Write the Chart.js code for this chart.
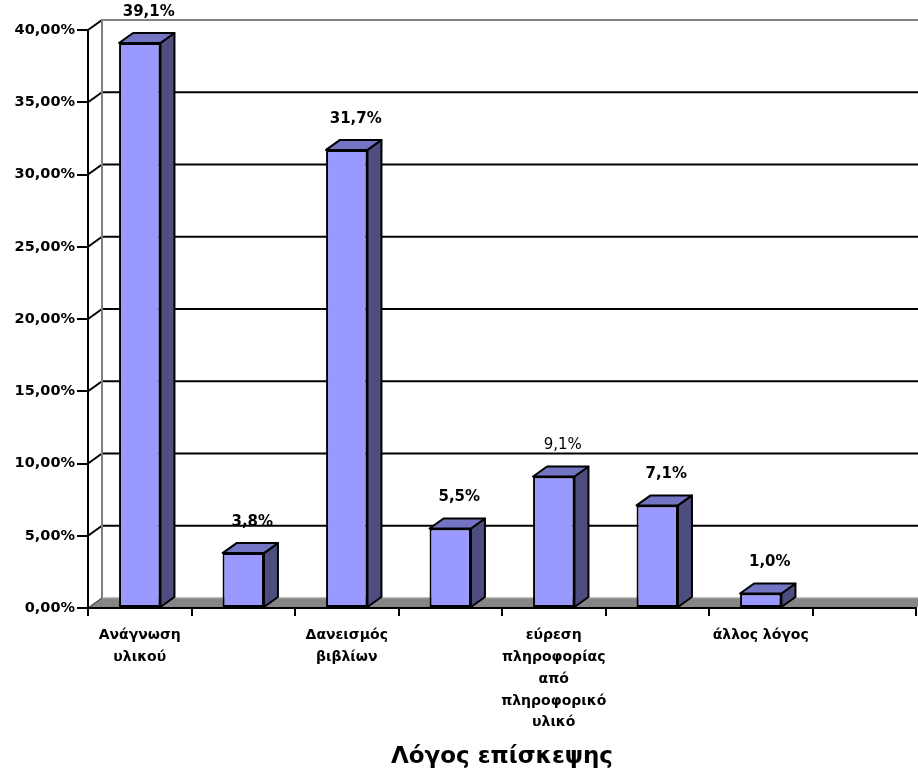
<!DOCTYPE html>
<html lang="el">
<head>
<meta charset="utf-8">
<title>Λόγος επίσκεψης</title>
<script src="https://cdn.jsdelivr.net/npm/chart.js@4.4.1/dist/chart.umd.min.js"></script>
<style>
  html, body { margin: 0; padding: 0; background: #fff; }
  #wrap { width: 918px; height: 776px; }
</style>
</head>
<body>
<div id="wrap"><canvas id="visits"></canvas></div>
<script>
// Λόγος επίσκεψης - ποσοστά (%)
const categories = [
  ['Ανάγνωση', 'υλικού'],
  '',
  ['Δανεισμός', 'βιβλίων'],
  '',
  ['εύρεση', 'πληροφορίας', 'από', 'πληροφορικό', 'υλικό'],
  '',
  'άλλος λόγος',
  ''
];
const percentages = [39.1, 3.8, 31.7, 5.5, 9.1, 7.1, 1.0, null];
const axisTitle = 'Λόγος επίσκεψης';

const FONT = 'DejaVu Sans';
const DEPTH_X = 14;
const DEPTH_Y = -10;

const fmtPct = (v, d) => v.toFixed(d).replace('.', ',') + '%';

function line(ctx, x1, y1, x2, y2, color, w) {
  ctx.beginPath();
  ctx.moveTo(x1, y1);
  ctx.lineTo(x2, y2);
  ctx.strokeStyle = color;
  ctx.lineWidth = w;
  ctx.stroke();
}

function poly(ctx, pts, fill) {
  ctx.beginPath();
  ctx.moveTo(pts[0][0], pts[0][1]);
  for (let i = 1; i < pts.length; i++) ctx.lineTo(pts[i][0], pts[i][1]);
  ctx.closePath();
  ctx.fillStyle = fill;
  ctx.fill();
  ctx.strokeStyle = '#000';
  ctx.lineWidth = 2;
  ctx.lineJoin = 'round';
  ctx.stroke();
}

/* --- back wall, side wall and floor --- */
const wallPlugin = {
  id: 'wall3d',
  beforeDraw(chart) {
    const { ctx, chartArea: a } = chart;
    const ys = chart.scales.y;
    ctx.save();
    ys.ticks.forEach(t => {
      const y = ys.getPixelForValue(t.value);
      if (t.value === 0) return;
      line(ctx, a.left, y, a.left + DEPTH_X, y + DEPTH_Y, '#000', 2);
      const c = t.value === ys.max ? '#808080' : '#000';
      line(ctx, a.left + DEPTH_X, y + DEPTH_Y, a.right + DEPTH_X, y + DEPTH_Y, c, 2);
    });
    line(ctx, a.left + DEPTH_X, a.top + DEPTH_Y, a.left + DEPTH_X, a.bottom + DEPTH_Y, '#808080', 2);

    // floor
    ctx.beginPath();
    ctx.moveTo(a.left, a.bottom);
    ctx.lineTo(a.left + DEPTH_X, a.bottom + DEPTH_Y);
    ctx.lineTo(a.right + DEPTH_X, a.bottom + DEPTH_Y);
    ctx.lineTo(a.right, a.bottom);
    ctx.closePath();
    ctx.fillStyle = '#858585';
    ctx.fill();
    line(ctx, a.left + DEPTH_X, a.bottom + DEPTH_Y, a.right + DEPTH_X, a.bottom + DEPTH_Y, '#a6a6a6', 1.5);
    line(ctx, a.left, a.bottom, a.left + DEPTH_X, a.bottom + DEPTH_Y, '#555', 1.5);
    ctx.restore();
  }
};

/* --- top / side faces of the bars and value labels --- */
const barDepthPlugin = {
  id: 'bar3d',
  afterDatasetsDraw(chart) {
    const { ctx } = chart;
    const meta = chart.getDatasetMeta(0);
    ctx.save();
    meta.data.forEach((bar, i) => {
      const v = percentages[i];
      if (v == null) return;
      const { x, y, base, width } = bar.getProps(['x', 'y', 'base', 'width'], true);
      const l = x - width / 2, r = x + width / 2;
      poly(ctx, [[r, y], [r + DEPTH_X, y + DEPTH_Y], [r + DEPTH_X, base + DEPTH_Y], [r, base]], '#4d4d80');
      poly(ctx, [[l, y], [l + DEPTH_X, y + DEPTH_Y], [r + DEPTH_X, y + DEPTH_Y], [r, y]], '#7474c4');

      ctx.fillStyle = '#000';
      ctx.font = (i === 4 ? 'normal' : 'bold') + ' 15px "' + FONT + '"';
      ctx.textAlign = 'center';
      ctx.textBaseline = 'middle';
      ctx.fillText(fmtPct(v, 1), x + 9, y + DEPTH_Y - 21);
    });
    ctx.restore();
  }
};

new Chart(document.getElementById('visits'), {
  type: 'bar',
  data: {
    labels: categories,
    datasets: [{
      data: percentages,
      backgroundColor: '#9999ff',
      borderColor: '#000',
      borderWidth: 2,
      borderSkipped: false,
      categoryPercentage: 1,
      barPercentage: 0.4,
    }]
  },
  options: {
    responsive: true,
    maintainAspectRatio: false,
    animation: false,
    layout: { padding: { top: 30, right: 2, left: 0, bottom: 0 } },
    plugins: {
      legend: { display: false },
      tooltip: { enabled: false },
    },
    scales: {
      x: {
        offset: true,
        afterFit: s => { s.height = 168; },
        grid: {
          offset: true,
          drawOnChartArea: false,
          tickLength: 8,
          color: '#000',
          lineWidth: 2,
        },
        border: { display: true, color: '#000', width: 2 },
        ticks: {
          autoSkip: false,
          maxRotation: 0,
          padding: 9,
          color: '#000',
          font: { family: FONT, size: 14, weight: 'bold', lineHeight: 1.55 },
        },
        title: {
          display: true,
          text: axisTitle,
          color: '#000',
          font: { family: FONT, size: 23, weight: 'bold' },
          padding: { top: 0, bottom: 5 },
        }
      },
      y: {
        min: 0,
        max: 40,
        afterFit: s => { s.width = 88; },
        grid: {
          drawOnChartArea: false,
          tickLength: 11,
          color: '#000',
          lineWidth: 2,
        },
        border: { display: true, color: '#000', width: 2 },
        ticks: {
          stepSize: 5,
          padding: 2,
          color: '#000',
          font: { family: FONT, size: 14.5, weight: 'bold' },
          callback: v => fmtPct(v, 2),
        }
      }
    }
  },
  plugins: [wallPlugin, barDepthPlugin]
});
</script>
</body>
</html>
